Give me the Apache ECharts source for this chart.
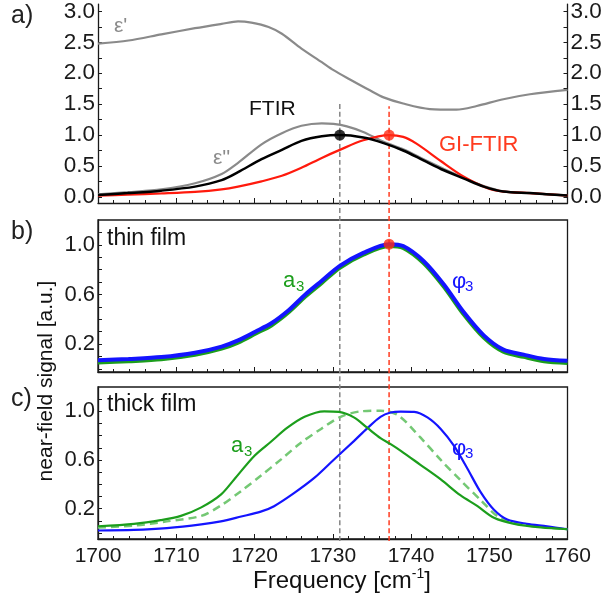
<!DOCTYPE html>
<html><head><meta charset="utf-8">
<script src="https://cdn.jsdelivr.net/npm/echarts@6/dist/echarts.min.js"></script>
<style>html,body{margin:0;padding:0;background:#fff}#c{width:609px;height:603px}</style>
</head><body><div id="c"></div>
<script>
// ---------- data ----------
// panel a
const epsRealX = [1700, 1703.9, 1708.1, 1712.4, 1715.8, 1717.9, 1719.6, 1721.8, 1723.5, 1726.0, 1728.6, 1730.1, 1732.2, 1734.8, 1736.5, 1739.0, 1742.4, 1745.8, 1748.4, 1751.8, 1755.2, 1760];
const epsRealY = [2.48, 2.53, 2.63, 2.73, 2.80, 2.84, 2.82, 2.75, 2.64, 2.40, 2.18, 2.05, 1.90, 1.72, 1.61, 1.51, 1.42, 1.41, 1.47, 1.58, 1.66, 1.73];
const epsImagX = [1700, 1703.8, 1708.1, 1712.4, 1715.8, 1717.9, 1720.9, 1723.5, 1726.0, 1728.6, 1730.1, 1731.8, 1733.9, 1736.5, 1739.0, 1741.6, 1744.2, 1746.7, 1749.3, 1751.8, 1755.2, 1760];
const epsImagY = [0.04, 0.075, 0.12, 0.22, 0.37, 0.55, 0.85, 1.03, 1.15, 1.19, 1.18, 1.14, 1.05, 0.89, 0.77, 0.61, 0.45, 0.31, 0.175, 0.09, 0.06, 0.025];
const ftirX = [1700, 1703.8, 1708.1, 1712.4, 1715.8, 1717.9, 1720.9, 1723.5, 1726.0, 1728.6, 1730.9, 1733.9, 1736.5, 1739.0, 1741.6, 1744.2, 1746.7, 1749.3, 1751.8, 1755.2, 1760];
const ftirY = [0.03, 0.06, 0.10, 0.165, 0.27, 0.40, 0.61, 0.76, 0.905, 0.98, 1.0, 0.96, 0.87, 0.75, 0.59, 0.43, 0.30, 0.165, 0.085, 0.06, 0.02];
const giftirX = [1700, 1703.8, 1708.1, 1712.4, 1715.8, 1717.9, 1720.9, 1723.5, 1726.0, 1728.6, 1730.9, 1733.9, 1737.2, 1739.0, 1740.7, 1743.8, 1746.7, 1749.7, 1751.8, 1755.2, 1760];
const giftirY = [0.02, 0.035, 0.055, 0.08, 0.12, 0.165, 0.25, 0.34, 0.47, 0.63, 0.76, 0.915, 1.0, 0.97, 0.86, 0.58, 0.33, 0.145, 0.085, 0.06, 0.02];
// peak markers
const ftirPeak = [1730.9, 1.0];
const giftirPeak = [1737.2, 1.0];
const thinPeak = [1737.2, 1.005];
// panel b (thin film)
const thinX = [1700, 1703.9, 1708.1, 1712.4, 1715.8, 1717.9, 1720.1, 1722.2, 1724.4, 1726.5, 1728.6, 1730.9, 1733.9, 1737.2, 1739.0, 1741.6, 1744.2, 1746.7, 1749.3, 1751.8, 1754.4, 1757.0, 1760];
const thinPhi = [0.07, 0.08, 0.095, 0.13, 0.18, 0.23, 0.30, 0.37, 0.475, 0.60, 0.71, 0.83, 0.935, 1.005, 0.99, 0.87, 0.68, 0.46, 0.27, 0.155, 0.115, 0.08, 0.065];
const thinAmp = [0.052, 0.062, 0.077, 0.113, 0.163, 0.212, 0.283, 0.352, 0.458, 0.583, 0.693, 0.815, 0.92, 0.99, 0.975, 0.853, 0.662, 0.442, 0.252, 0.138, 0.097, 0.062, 0.048];
// panel c (thick film)
const thickAmpX = [1700, 1704.6, 1708.0, 1710.6, 1713.2, 1715.7, 1717.4, 1720.0, 1722.1, 1724.2, 1726.4, 1728.9, 1730.8, 1732.7, 1734.4, 1736.1, 1737.4, 1738.7, 1741.2, 1743.8, 1746.3, 1748.5, 1750.6, 1753.2, 1756.6, 1760];
const thickAmpY = [0.055, 0.075, 0.105, 0.14, 0.21, 0.315, 0.44, 0.635, 0.75, 0.865, 0.955, 1.0, 0.995, 0.95, 0.865, 0.78, 0.73, 0.675, 0.56, 0.44, 0.31, 0.22, 0.125, 0.075, 0.045, 0.03];
const thickDashX = [1700, 1704.6, 1708.8, 1713.2, 1715.7, 1718.3, 1720.8, 1723.4, 1725.9, 1728.5, 1731.0, 1733.6, 1736.1, 1738.3, 1741.2, 1743.8, 1746.3, 1748.9, 1751.0, 1753.2, 1756.6, 1760];
const thickDashY = [0.045, 0.06, 0.095, 0.14, 0.225, 0.345, 0.47, 0.605, 0.74, 0.855, 0.955, 1.0, 1.005, 0.97, 0.785, 0.6, 0.435, 0.27, 0.14, 0.08, 0.05, 0.03];
const thickPhiX = [1700, 1704.6, 1708.8, 1713.2, 1715.7, 1718.3, 1720.8, 1722.5, 1725.0, 1727.6, 1730.1, 1732.7, 1734.4, 1736.1, 1737.4, 1738.7, 1740.4, 1742.1, 1743.8, 1745.5, 1747.2, 1748.9, 1750.6, 1752.3, 1754.8, 1757.4, 1760];
const thickPhiY = [0.02, 0.025, 0.04, 0.07, 0.095, 0.135, 0.175, 0.22, 0.325, 0.45, 0.6, 0.755, 0.86, 0.955, 0.99, 0.998, 0.995, 0.95, 0.855, 0.715, 0.53, 0.335, 0.19, 0.11, 0.075, 0.055, 0.03];
// vertical reference lines
const ftirLineX = 1730.9;
const giftirLineX = 1737.2;
// ticks
const xTicks = [1700, 1710, 1720, 1730, 1740, 1750, 1760];
const yTicksA = [0.0, 0.5, 1.0, 1.5, 2.0, 2.5, 3.0];
const yMinorA = [0, 0.25, 0.5, 0.75, 1, 1.25, 1.5, 1.75, 2, 2.25, 2.5, 2.75, 3];
const yTicksBC = [0.2, 0.6, 1.0];
const yMinorBC = [0, 0.1, 0.2, 0.3, 0.4, 0.5, 0.6, 0.7, 0.8, 0.9, 1.0, 1.1];

// ---------- chart ----------
const pairs = (xs, ys) => xs.map((x, i) => [x, ys[i]]);
const FONT = 'Liberation Sans, Arial, sans-serif';
const AX = '#1a1a1a';
const L = 98, R = 41.5;

function xAx(idx, withLabels) {
  return {
    type: 'value', gridIndex: idx, min: xTicks[0], max: xTicks[xTicks.length - 1], interval: 10,
    axisLine: { show: true, onZero: false, lineStyle: { color: AX, width: 1.3 } },
    axisTick: { show: true, inside: true, length: 5, lineStyle: { color: AX, width: 1 } },
    minorTick: { show: true, splitNumber: 5, length: 3, lineStyle: { color: AX, width: 1 } },
    splitLine: { show: false },
    axisLabel: { show: withLabels, fontFamily: FONT, fontSize: 21, color: AX, margin: 7, formatter: v => String(v) }
  };
}
function yAx(idx, min, max, labels, ticks, pos, fs) {
  return {
    type: 'value', gridIndex: idx, min: min, max: max, position: pos || 'left',
    axisLine: { show: true, onZero: false, lineStyle: { color: AX, width: 1.3 } },
    axisTick: { show: true, inside: true, length: 4, customValues: ticks, lineStyle: { color: AX, width: 1 } },
    splitLine: { show: false },
    axisLabel: { show: true, customValues: labels, fontFamily: FONT, fontSize: fs, color: AX, margin: 3,
      formatter: v => v.toFixed(1) }
  };
}
function line(xi, yi, xs, ys, color, width, type, z) {
  return { type: 'line', xAxisIndex: xi, yAxisIndex: yi, data: pairs(xs, ys), showSymbol: false, symbol: 'none',
    smooth: 0.3, lineStyle: { color: color, width: width, type: type || 'solid' }, z: z || 3, silent: true };
}

const chart = echarts.init(document.getElementById('c'), null, { renderer: 'canvas' });
const txt = (x, y, text, size, color, extra) => Object.assign({
  type: 'text', x: x, y: y, style: Object.assign({ text: text, fontFamily: FONT, fontSize: size, fill: color, textAlign: 'left', textVerticalAlign: 'middle' }, extra || {})
});

chart.setOption({
  animation: false,
  backgroundColor: '#fff',
  grid: [
    { left: L, right: R, top: 3, height: 200 },
    { left: L, right: R, top: 220, height: 152, show: true, borderColor: AX, borderWidth: 1.3 },
    { left: L, right: R, top: 387, height: 152, show: true, borderColor: AX, borderWidth: 1.3 },
    { left: L, right: R, top: 104, height: 437 }
  ],
  xAxis: [
    xAx(0, false), xAx(1, false), xAx(2, true),
    { type: 'value', gridIndex: 3, min: 1700, max: 1760, show: false }
  ],
  yAxis: [
    yAx(0, -0.1, 3.12, yTicksA, yMinorA, 'left', 22.5),
    yAx(0, -0.1, 3.12, yTicksA, yMinorA, 'right', 22.5),
    yAx(1, -0.025, 1.2, yTicksBC, yMinorBC, 'left', 22),
    yAx(2, -0.05, 1.2, yTicksBC, yMinorBC, 'left', 22),
    { type: 'value', gridIndex: 3, min: 0, max: 1, show: false }
  ],
  series: [
    line(3, 4, [ftirLineX, ftirLineX], [0, 1], '#858585', 1.5, [5, 3], 2),
    line(3, 4, [giftirLineX, giftirLineX], [0, 0.995], '#ff3b1f', 1.5, [5, 3], 2),
    line(0, 0, epsRealX, epsRealY, '#8a8a8a', 2.2),
    line(0, 0, epsImagX, epsImagY, '#8a8a8a', 2.2),
    line(0, 0, giftirX, giftirY, '#ff1a0d', 2.2),
    line(0, 0, ftirX, ftirY, '#000000', 2.5, 'solid', 4),
    { type: 'scatter', xAxisIndex: 0, yAxisIndex: 0, data: [ftirPeak], symbolSize: 11, itemStyle: { color: '#000' }, z: 6, silent: true },
    { type: 'scatter', xAxisIndex: 0, yAxisIndex: 0, data: [giftirPeak], symbolSize: 11, itemStyle: { color: '#ff2a14' }, z: 6, silent: true },
    line(1, 2, thinX, thinAmp, '#1c9e1c', 4),
    line(1, 2, thinX, thinPhi, '#1414ff', 4, 'solid', 4),
    { type: 'scatter', xAxisIndex: 1, yAxisIndex: 2, data: [thinPeak], symbolSize: 11, itemStyle: { color: '#ff2a14' }, z: 6, silent: true },
    line(2, 3, thickDashX, thickDashY, '#74c874', 2.5, [8, 5]),
    line(2, 3, thickPhiX, thickPhiY, '#1414ff', 2.2),
    line(2, 3, thickAmpX, thickAmpY, '#1c9e1c', 2.2, 'solid', 4)
  ],
  graphic: [
    txt(11, 16, 'a)', 25, '#222'),
    txt(11, 232, 'b)', 25, '#222'),
    txt(11, 399, 'c)', 25, '#222'),
    txt(114, 26, "ε'", 21, '#8a8a8a'),
    txt(213, 158, "ε''", 21, '#8a8a8a'),
    txt(249, 109, 'FTIR', 21, '#111'),
    txt(439, 145, 'GI-FTIR', 22, '#ff3b1f'),
    txt(107, 239, 'thin film', 23, '#111'),
    txt(107, 405, 'thick film', 23, '#111'),
    txt(283, 281, 'a', 22, '#1c9e1c'),
    txt(296, 287, '3', 15, '#1c9e1c'),
    txt(452, 282, 'φ', 22, '#1414ff'),
    txt(465, 287, '3', 15, '#1414ff'),
    txt(231, 446, 'a', 22, '#1c9e1c'),
    txt(244, 452, '3', 15, '#1c9e1c'),
    txt(452, 449, 'φ', 22, '#1414ff'),
    txt(465, 454, '3', 15, '#1414ff'),
    { type: 'text', x: 46, y: 381, rotation: Math.PI / 2,
      style: { text: 'near-field signal [a.u.]', fontFamily: FONT, fontSize: 21, fill: '#111', textAlign: 'center', textVerticalAlign: 'middle' } },
    { type: 'text', x: 342, y: 581,
      style: { text: '{n|Frequency [cm}{s|-1}{n|]}', fontFamily: FONT, fill: '#111', textAlign: 'center', textVerticalAlign: 'middle',
        rich: { n: { fontFamily: FONT, fontSize: 24, lineHeight: 27, verticalAlign: 'middle', fill: '#111' },
                s: { fontFamily: FONT, fontSize: 14, lineHeight: 14, verticalAlign: 'top', fill: '#111' } } } }
  ]
});
</script>
</body></html>
